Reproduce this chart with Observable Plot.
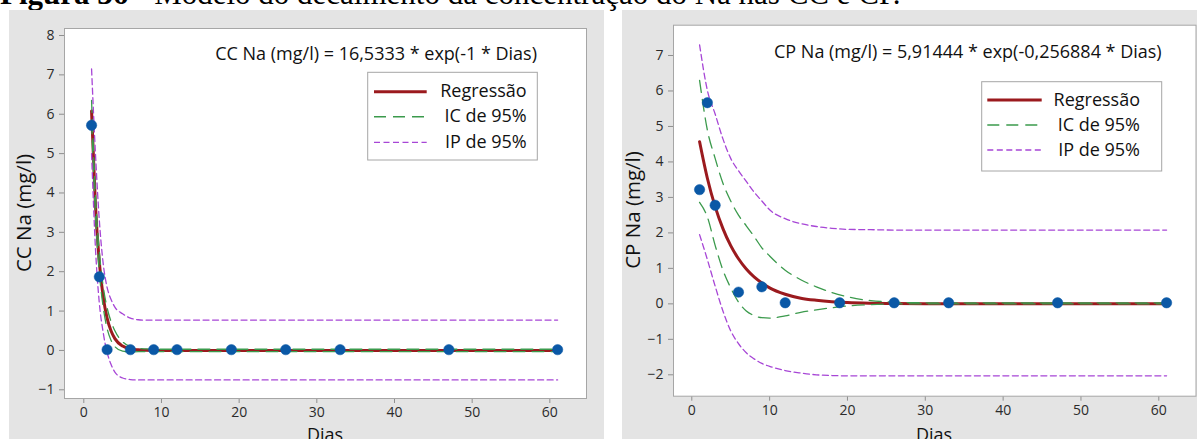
<!DOCTYPE html>
<html>
<head>
<meta charset="utf-8">
<script src="https://cdn.jsdelivr.net/npm/d3@7"></script>
<script src="https://cdn.jsdelivr.net/npm/@observablehq/plot@0.6"></script>
<style>
  html, body { margin: 0; padding: 0; background: #fff; overflow: hidden; }
  #page { position: relative; width: 1197px; height: 439px; overflow: hidden; }
  #caption { position: absolute; left: 0; top: -22px; font-family: "Liberation Serif", "Times New Roman", serif;
             font-size: 31px; line-height: 31px; white-space: nowrap; color: #000; }
  .panel { position: absolute; top: 10px; }
  .panel svg g[aria-label="x-axis tick"], .panel svg g[aria-label="y-axis tick"] { stroke: #8f8f8f; }
</style>
</head>
<body>
<div id="page">
  <div id="caption"><b>Figura 36</b> - Modelo do decaimento da concentração do Na nas CC e CP.</div>
  <div class="panel" id="cc" style="left:9px"></div>
  <div class="panel" id="cp" style="left:622px"></div>
</div>
<script>
// ---- CC: observed sodium concentration (mg/l) by day ----
const ccDias = [1, 2, 3, 6, 9, 12, 19, 26, 33, 47, 61];
const ccNa = [5.72, 1.87, 0.02, 0.02, 0.02, 0.02, 0.02, 0.02, 0.02, 0.02, 0.02];

// CC fitted curve with 95% confidence (IC) and prediction (IP) bands
const ccCurveDias = [1, 1.5, 2, 2.5, 3, 3.5, 4, 5, 6, 7, 8, 10, 20, 61];
const ccFit    = [6.08, 3.69, 2.24, 1.36, 0.82, 0.50, 0.30, 0.11, 0.04, 0.015, 0.006, 0, 0, 0];
const ccIcHigh = [6.35, 3.95, 2.50, 1.62, 1.08, 0.74, 0.50, 0.22, 0.09, 0.05, 0.04, 0.03, 0.03, 0.03];
const ccIcLow  = [5.81, 3.43, 1.98, 1.10, 0.56, 0.26, 0.10, -0.02, -0.04, -0.03, -0.03, -0.03, -0.03, -0.03];
const ccIpHigh = [7.15, 5.00, 3.30, 2.20, 1.60, 1.30, 1.10, 0.93, 0.82, 0.78, 0.77, 0.77, 0.77, 0.77];
const ccIpLow  = [5.00, 2.60, 1.20, 0.45, -0.05, -0.35, -0.55, -0.70, -0.74, -0.75, -0.75, -0.75, -0.75, -0.75];

// ---- CP: observed sodium concentration (mg/l) by day ----
const cpDias = [1, 2, 3, 6, 9, 12, 19, 26, 33, 47, 61];
const cpNa = [3.22, 5.67, 2.78, 0.33, 0.48, 0.03, 0.03, 0.03, 0.03, 0.03, 0.03];

// CP fitted curve with 95% confidence (IC) and prediction (IP) bands
const cpCurveDias = [1, 2, 3, 4, 5, 6, 7, 8, 9, 10, 12, 14, 16, 18, 20, 23, 26, 30, 40, 61];
const cpFit    = [4.57, 3.54, 2.74, 2.12, 1.64, 1.27, 0.98, 0.76, 0.59, 0.45, 0.27, 0.16, 0.10, 0.06, 0.035, 0.016, 0.007, 0.003, 0, 0];
const cpIcHigh = [6.30, 4.90, 4.10, 3.40, 2.90, 2.50, 2.20, 1.90, 1.58, 1.35, 0.95, 0.68, 0.48, 0.32, 0.20, 0.09, 0.05, 0.03, 0.03, 0.03];
const cpIcLow  = [2.86, 2.45, 1.65, 0.95, 0.45, 0.05, -0.20, -0.33, -0.39, -0.40, -0.34, -0.24, -0.17, -0.11, -0.06, -0.02, 0, 0, 0, 0];
const cpIpHigh = [7.30, 6.02, 5.35, 4.65, 4.10, 3.75, 3.45, 3.15, 2.90, 2.65, 2.40, 2.26, 2.18, 2.13, 2.10, 2.09, 2.08, 2.08, 2.08, 2.08];
const cpIpLow  = [1.95, 1.25, 0.50, -0.20, -0.76, -1.12, -1.38, -1.55, -1.68, -1.76, -1.88, -1.95, -2.00, -2.02, -2.03, -2.03, -2.03, -2.03, -2.03, -2.03];

// Axis ticks and texts
const xTicks = [0, 10, 20, 30, 40, 50, 60];
const ccYTicks = [-1, 0, 1, 2, 3, 4, 5, 6, 7, 8];
const cpYTicks = [-2, -1, 0, 1, 2, 3, 4, 5, 6, 7];
const legendLabels = ["Regressão", "IC de 95%", "IP de 95%"];
const xTitle = "Dias";

const RED = "#9b1a1e", GREEN = "#3b9a4c", PURPLE = "#a746d6", BLUE = "#0a58a6";
const FONT = "'Open Sans', 'Noto Sans', sans-serif";

function panel(cfg) {
  const pts = cfg.dias.map((d, i) => ({dias: d, na: cfg.na[i]}));
  const curve = cfg.curveDias.map((d, i) => ({
    dias: d, fit: cfg.fit[i], icHi: cfg.icHigh[i], icLo: cfg.icLow[i], ipHi: cfg.ipHigh[i], ipLo: cfg.ipLow[i]
  }));
  const lineOpts = {x: "dias", curve: "monotone-x"};
  const svg = Plot.plot({
    width: cfg.width, height: 429,
    marginLeft: cfg.margin[0], marginRight: cfg.margin[1], marginTop: cfg.margin[2], marginBottom: cfg.margin[3],
    style: {background: "#e4e4e4", fontFamily: FONT, fontSize: "14px", color: "#2b2b2b", overflow: "hidden"},
    x: {domain: cfg.xDomain, ticks: xTicks, tickSize: 5, tickPadding: 4, label: null},
    y: {domain: cfg.yDomain, ticks: cfg.yTicks, tickSize: 5, tickPadding: 5, label: null},
    marks: [
      Plot.frame({fill: "white", stroke: "#a6a6a6"}),
      Plot.line(curve, {...lineOpts, y: "fit", stroke: RED, strokeWidth: 3}),
      Plot.line(curve, {...lineOpts, y: "icHi", stroke: GREEN, strokeWidth: 1.3, strokeDasharray: "12,7"}),
      Plot.line(curve, {...lineOpts, y: "icLo", stroke: GREEN, strokeWidth: 1.3, strokeDasharray: "12,7"}),
      Plot.line(curve, {...lineOpts, y: "ipHi", stroke: PURPLE, strokeWidth: 1.3, strokeDasharray: "6,3.5"}),
      Plot.line(curve, {...lineOpts, y: "ipLo", stroke: PURPLE, strokeWidth: 1.3, strokeDasharray: "6,3.5"}),
      Plot.dot(pts, {x: "dias", y: "na", r: 5.2, fill: BLUE, stroke: BLUE, strokeWidth: 0.5})
    ]
  });

  const s = d3.select(svg);
  // regression equation
  s.append("text").attr("x", cfg.eq[0]).attr("y", cfg.eq[1]).attr("text-anchor", "end")
    .attr("font-size", 18).attr("fill", "#111").text(cfg.equation);
  // legend
  const L = cfg.legend;
  const g = s.append("g").attr("aria-label", "legend");
  g.append("rect").attr("x", L.x).attr("y", L.y).attr("width", L.w).attr("height", L.h)
    .attr("fill", "white").attr("stroke", "#a6a6a6");
  const sw = [
    {stroke: RED, width: 3, dash: null},
    {stroke: GREEN, width: 1.5, dash: "12,7"},
    {stroke: PURPLE, width: 1.3, dash: "6,3.5"}
  ];
  legendLabels.forEach((lab, i) => {
    const y = L.rows[i];
    g.append("line").attr("x1", L.lx[0]).attr("x2", L.lx[1]).attr("y1", y).attr("y2", y)
      .attr("stroke", sw[i].stroke).attr("stroke-width", sw[i].width).attr("stroke-dasharray", sw[i].dash);
    g.append("text").attr("x", L.tx).attr("y", y + 5.5).attr("text-anchor", "end")
      .attr("font-size", 18).attr("fill", "#111").text(lab);
  });
  // axis titles
  s.append("text").attr("transform", `translate(${cfg.yTitle[0]},${cfg.yTitle[1]}) rotate(-90)`)
    .attr("text-anchor", "middle").attr("font-size", 20.5).attr("fill", "#111").text(cfg.yLabel);
  s.append("text").attr("x", cfg.xTitle[0]).attr("y", cfg.xTitle[1]).attr("text-anchor", "middle")
    .attr("font-size", 18).attr("fill", "#111").text(xTitle);
  return svg;
}

document.getElementById("cc").append(panel({
  dias: ccDias, na: ccNa, curveDias: ccCurveDias, fit: ccFit,
  icHigh: ccIcHigh, icLow: ccIcLow, ipHigh: ccIpHigh, ipLow: ccIpLow,
  width: 595, margin: [55, 18, 18, 41],
  xDomain: [-2.485, 64.72], yDomain: [-1.221, 8.178], yTicks: ccYTicks,
  equation: "CC Na (mg/l) = 16,5333 * exp(-1 * Dias)", eq: [528, 49.7],
  legend: {x: 358.7, y: 62.3, w: 169.6, h: 87.7, rows: [81.7, 106.7, 132.3], lx: [365, 417.7], tx: 517.7},
  yLabel: "CC Na (mg/l)", yTitle: [22, 203], xTitle: [316, 431]
}));

document.getElementById("cp").append(panel({
  dias: cpDias, na: cpNa, curveDias: cpCurveDias, fit: cpFit,
  icHigh: cpIcHigh, icLow: cpIcLow, ipHigh: cpIpHigh, ipLow: cpIpLow,
  width: 575, margin: [51, 1.5, 14.7, 43.3],
  xDomain: [-2.35, 64.78], yDomain: [-2.603, 7.854], yTicks: cpYTicks,
  equation: "CP Na (mg/l) = 5,91444 * exp(-0,256884 * Dias)", eq: [539.7, 47.5],
  legend: {x: 359.7, y: 71.7, w: 180, h: 89.3, rows: [90, 115, 140], lx: [365.3, 419.7], tx: 518},
  yLabel: "CP Na (mg/l)", yTitle: [18, 200], xTitle: [312, 431]
}));
</script>
</body>
</html>
